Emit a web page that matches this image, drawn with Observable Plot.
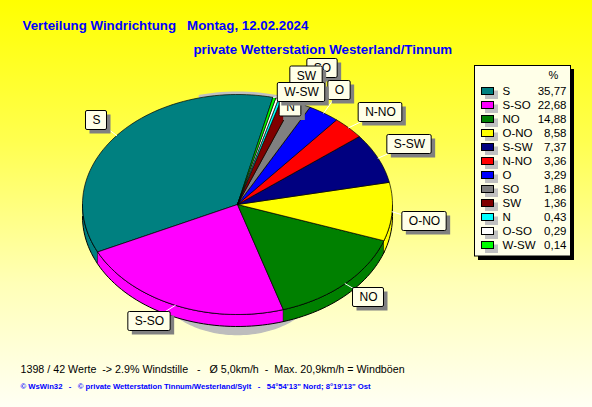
<!DOCTYPE html>
<html><head><meta charset="utf-8">
<script src="https://cdn.jsdelivr.net/npm/d3@7"></script>
<script src="https://cdn.jsdelivr.net/npm/@observablehq/plot@0.6"></script>
<style>html,body{margin:0;padding:0;background:#fff}svg{display:block}</style>
</head><body><div id="chart"></div>
<script>
const categories = ["S","S-SO","NO","O-NO","S-SW","N-NO","O","SO","SW","N","O-SO","W-SW"];
const percents = [35.77,22.68,14.88,8.58,7.37,3.36,3.29,1.86,1.36,0.43,0.29,0.14];
const percentLabels = ["35,77","22,68","14,88","8,58","7,37","3,36","3,29","1,86","1,36","0,43","0,29","0,14"];
const colours = ["#008080","#ff00ff","#008000","#ffff00","#000080","#ff0000","#0000ff","#808080","#800000","#00ffff","#ffffff","#00ff00"];
const titleLine = "Verteilung Windrichtung   Montag, 12.02.2024";
const stationLine = "private Wetterstation Westerland/Tinnum";
const statsLine = "1398 / 42 Werte  -> 2.9% Windstille   -   Ø 5,0km/h  -  Max. 20,9km/h = Windböen";
const creditLine = "© WsWin32   -   © private Wetterstation Tinnum/Westerland/Sylt   -   54°54'13\" Nord; 8°19'13\" Ost";

// layout only: label-box centre in page pixels, per slice, in stacking order
const labelCentres = {"S":[96,120],"S-SO":[149,321],"NO":[368,297],"O-NO":[424,221],"S-SW":[409,144],"N-NO":[380,112],"N":[290,106.5],"SO":[322,68],"O":[339,90],"SW":[306,75.5],"W-SW":[301,92]};
const labelOrder = Object.keys(labelCentres);

const W=592,H=407, cx=237, cy=204, rx=155, ry=110, depth=12, startDeg=76.8, minSweep=1.1;
const ux=p=>(p-cx)/rx, uy=p=>(cy-p)/ry;     // page pixel -> pie unit
const total=d3.sum(percents);
let cum=0;
const slices=categories.map((name,i)=>{const a0=startDeg+cum/total*360;cum+=percents[i];const a1=startDeg+cum/total*360;return {name,colour:colours[i],a0,a1,mid:(a0+a1)/2};});
// the thinnest wedges keep a visible sliver, as in the reference
for(let i=slices.length-1;i>0;i--){const s=slices[i];if(i<slices.length-1)s.a1=Math.min(s.a1,slices[i+1].a0);s.a0=Math.min(s.a0,s.a1-minSweep);}
const rad=d=>d*Math.PI/180;
const onRim=(deg,drop=0)=>({x:Math.cos(rad(deg)),y:Math.sin(rad(deg))-drop/ry});
function arc(a0,a1,drop=0){const n=Math.max(2,Math.ceil((a1-a0)/2));return d3.range(n+1).map(k=>onRim(a0+(a1-a0)*k/n,drop));}
const topPts=slices.flatMap(s=>[{x:0,y:0},...arc(s.a0,s.a1),{x:0,y:0}].map(p=>({...p,name:s.name,colour:s.colour})));
const sidePts=[];
for(const s of slices){
  for(const [lo,hi] of [[180,360],[540,720]]){const a=Math.max(s.a0,lo),b=Math.min(s.a1,hi);if(b>a){
    [...arc(a,b),...arc(a,b,depth).reverse()].forEach(p=>sidePts.push({...p,name:s.name+lo,colour:s.colour}));}}}
const shadowPts=arc(0,360).map(p=>({x:p.x*85/rx,y:p.y*60/ry+uy(274),name:"shadow",colour:"#bdbdbd"}));
const topShadow=arc(72,104).map(p=>({x:p.x,y:p.y+1.5/ry}));

const ctx=document.createElement("canvas").getContext("2d");
ctx.font="12px 'Liberation Sans'";
const boxes=labelOrder.map(name=>{const [lx,ly]=labelCentres[name];const w=ctx.measureText(name).width+13;return {name,lx,ly,w};});
const leaders=boxes.filter(b=>b.name!=="N").flatMap(b=>{const s=slices.find(q=>q.name===b.name);const p=onRim(s.mid);return [{x:p.x,y:p.y,name:b.name},{x:ux(b.lx),y:uy(b.ly),name:b.name}];});

const rowY=i=>91+i*14;
const legend=categories.map((name,i)=>({name,i,colour:colours[i],label:percentLabels[i]}));
const font="'Liberation Sans',Arial,sans-serif";
const rectPx=(data,o,extra)=>Plot.rect(data,{x1:d=>ux(o.x1(d)),x2:d=>ux(o.x2(d)),y1:d=>uy(o.y1(d)),y2:d=>uy(o.y2(d)),...extra});
const textPx=(data,o,extra)=>Plot.text(data,{x:d=>ux(o.x(d)),y:d=>uy(o.y(d)),text:o.text,fontFamily:font,...extra});
const one=[0];
const plot=Plot.plot({
  width:W,height:H,margin:0,
  x:{axis:null,domain:[ux(0),ux(W)],range:[0,W]},
  y:{axis:null,domain:[uy(H),uy(0)],range:[H,0]},
  color:{type:"identity"},
  style:{background:"linear-gradient(#ffff00 0%,#ffff50 35%,#ffffb8 70%,#fffff4 100%)",overflow:"visible"},
  marks:[
    Plot.line(shadowPts,{x:"x",y:"y",z:"name",fill:"colour",stroke:"colour"}),
    Plot.line(topShadow,{x:"x",y:"y",stroke:"#c0c0c0",strokeWidth:3}),
    Plot.line(sidePts,{x:"x",y:"y",z:"name",fill:"colour",stroke:"#000",strokeWidth:1}),
    Plot.line(topPts,{x:"x",y:"y",z:"name",fill:"colour",stroke:"#000",strokeWidth:0.7}),
    Plot.line(leaders,{x:"x",y:"y",z:"name",stroke:"#fff",strokeWidth:1}),
    ...boxes.flatMap(b=>[
      rectPx([b],{x1:b=>b.lx-b.w/2+4,x2:b=>b.lx+b.w/2+4,y1:b=>b.ly-9.5+4,y2:b=>b.ly+9.5+4},{fill:"#808080"}),
      rectPx([b],{x1:b=>b.lx-b.w/2,x2:b=>b.lx+b.w/2,y1:b=>b.ly-9.5,y2:b=>b.ly+9.5},{fill:"#ffffe8",stroke:"#000",rx:1.5}),
      textPx([b],{x:b=>b.lx,y:b=>b.ly,text:"name"},{fontSize:12,fill:"#000"})
    ]),
    rectPx(one,{x1:()=>478,x2:()=>574,y1:()=>69,y2:()=>260},{fill:"#000"}),
    rectPx(one,{x1:()=>474.5,x2:()=>570.5,y1:()=>65.5,y2:()=>256},{fill:"#ffffe8",stroke:"#000"}),
    textPx(one,{x:()=>553,y:()=>75,text:()=>"%"},{fontSize:11,fill:"#000"}),
    rectPx(legend,{x1:()=>485,x2:()=>498,y1:d=>rowY(d.i)-0.5,y2:d=>rowY(d.i)+8},{fill:"#c0c0c0"}),
    rectPx(legend,{x1:()=>481.5,x2:()=>493.5,y1:d=>rowY(d.i)-3.5,y2:d=>rowY(d.i)+3.5},{fill:"colour",stroke:"#000"}),
    textPx(legend,{x:()=>502,y:d=>rowY(d.i),text:"name"},{fontSize:11.5,textAnchor:"start",fill:"#000"}),
    textPx(legend,{x:()=>566,y:d=>rowY(d.i),text:"label"},{fontSize:11.5,textAnchor:"end",fill:"#000"}),
    textPx(one,{x:()=>22,y:()=>25,text:()=>titleLine},{fontSize:13.3,fontWeight:"bold",textAnchor:"start",fill:"#0000ff"}),
    textPx(one,{x:()=>193,y:()=>49,text:()=>stationLine},{fontSize:13.3,fontWeight:"bold",textAnchor:"start",fill:"#0000ff"}),
    textPx(one,{x:()=>20,y:()=>369,text:()=>statsLine},{fontSize:10.7,textAnchor:"start",fill:"#000"}),
    textPx(one,{x:()=>20,y:()=>386,text:()=>creditLine},{fontSize:7.7,fontWeight:"bold",textAnchor:"start",fill:"#0000ff"})
  ]
});
document.getElementById("chart").append(plot);
</script></body></html>
